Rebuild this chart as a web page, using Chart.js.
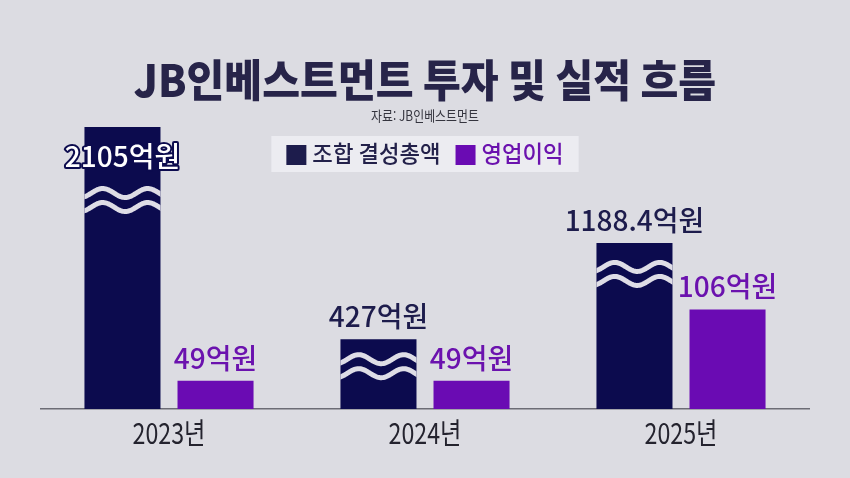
<!DOCTYPE html>
<html lang="ko">
<head>
<meta charset="utf-8">
<title>JB인베스트먼트 투자 및 실적 흐름</title>
<script src="https://cdn.jsdelivr.net/npm/chart.js@4.4.1/dist/chart.umd.min.js"></script>
<style>
    html, body { margin: 0; padding: 0; background: #dcdce2; overflow: hidden; }
    #wrap { width: 850px; height: 478px; position: relative; }
</style>
</head>
<body>
<div id="wrap"><canvas id="chart"></canvas></div>
<script>
// Chart data (억원)
const years = ['2023년', '2024년', '2025년'];
const fundTotal = [2105, 427, 1188.4];      // 조합 결성총액
const operatingProfit = [49, 49, 106];      // 영업이익
const seriesNames = ['조합 결성총액', '영업이익'];
const unit = '억원';

const NAVY = '#0c0b4e';
const NAVY_TEXT = '#1d1c4c';
const PURPLE = '#6a0bb3';
const PURPLE_TEXT = '#6b12ae';
const BG = '#dcdce2';
const FONT = '"Noto Sans CJK KR", "Noto Sans", sans-serif';

/**
 * Draw a text horizontally squeezed by sx (the reference uses a condensed face)
 */
function drawText(ctx, text, x, y, font, color, sx, align, stroke) {
    ctx.save();
    ctx.font = font;
    ctx.textAlign = align || 'center';
    ctx.textBaseline = 'middle';
    ctx.translate(x, y);
    ctx.scale(sx, 1);
    if (stroke) {
        ctx.lineJoin = 'round';
        ctx.lineWidth = stroke.width;
        ctx.strokeStyle = stroke.color;
        ctx.strokeText(text, 0, 0);
    }
    ctx.fillStyle = color;
    ctx.fillText(text, 0, 0);
    ctx.restore();
}

function textWidth(ctx, text, font, sx) {
    ctx.save();
    ctx.font = font;
    const w = ctx.measureText(text).width * sx;
    ctx.restore();
    return w;
}

// Background fill
const backdrop = {
    id: 'backdrop',
    beforeDraw(chart) {
        const ctx = chart.ctx;
        ctx.save();
        ctx.fillStyle = BG;
        ctx.fillRect(0, 0, chart.width, chart.height);
        ctx.restore();
    }
};

// Wavy break marks on the dark bars
const waveBreaks = {
    id: 'waveBreaks',
    afterDatasetsDraw(chart, args, opts) {
        const ctx = chart.ctx;
        const meta = chart.getDatasetMeta(0);
        meta.data.forEach((bar, i) => {
            const p = bar.getProps(['x', 'y', 'base', 'width'], true);
            const left = p.x - p.width / 2;
            const right = p.x + p.width / 2;
            const yc = p.y + opts.offsets[i];
            ctx.save();
            ctx.beginPath();
            ctx.rect(left, p.y, p.width, p.base - p.y);
            ctx.clip();
            ctx.strokeStyle = opts.color;
            ctx.lineWidth = opts.lineWidth;
            [0, opts.gap].forEach(d => {
                ctx.beginPath();
                for (let x = left - 3; x <= right + 3; x++) {
                    const y = yc + d - opts.amplitude * Math.sin(2 * Math.PI * (x - left - opts.phase) / opts.period);
                    if (x === left - 3) ctx.moveTo(x, y); else ctx.lineTo(x, y);
                }
                ctx.stroke();
            });
            ctx.restore();
        });
    }
};

// Value labels above the bars
const valueLabels = {
    id: 'valueLabels',
    afterDatasetsDraw(chart) {
        const ctx = chart.ctx;
        const font = '500 28px ' + FONT;
        chart.data.datasets.forEach((ds, di) => {
            const meta = chart.getDatasetMeta(di);
            meta.data.forEach((bar, i) => {
                const text = ds.data[i] + unit;
                const color = di === 0 ? NAVY_TEXT : PURPLE_TEXT;
                if (bar.y < chart.chartArea.top + 30) {
                    // tallest bar: label sits on the bar, white with outline
                    drawText(ctx, text, bar.x, bar.y + 29, font, '#ffffff', 1, 'center', { width: 4, color: NAVY });
                } else {
                    drawText(ctx, text, bar.x, bar.y - 23, font, color, 1, 'center');
                }
            });
        });
    }
};

// Title, source, legend box and category labels
const decorations = {
    id: 'decorations',
    afterDraw(chart) {
        const ctx = chart.ctx;
        const cx = chart.width / 2;

        drawText(ctx, 'JB인베스트먼트 투자 및 실적 흐름', cx, 80, '900 44px ' + FONT, '#272449', 0.935, 'center');
        drawText(ctx, '자료: JB인베스트먼트', cx, 116, '400 14px ' + FONT, '#34343e', 0.85, 'center');

        // legend
        const lFont = '500 23px ' + FONT;
        const sq = 20, gapIn = 6, gapItem = 15, padX = 15;
        const colors = [NAVY_TEXT, PURPLE];
        const textColors = ['#23214a', PURPLE_TEXT];
        const widths = seriesNames.map(n => textWidth(ctx, n, lFont, 0.97));
        const total = widths.reduce((a, w) => a + sq + gapIn + w, 0) + gapItem;
        const boxL = cx - total / 2 - padX;
        ctx.save();
        ctx.fillStyle = '#ececf1';
        ctx.fillRect(boxL, 136, total + padX * 2, 36);
        ctx.restore();
        let x = boxL + padX;
        seriesNames.forEach((n, i) => {
            ctx.fillStyle = colors[i];
            ctx.fillRect(x, 155 - sq / 2, sq, sq);
            x += sq + gapIn;
            drawText(ctx, n, x, 153, lFont, textColors[i], 0.97, 'left');
            x += widths[i] + gapItem;
        });

        // category labels
        const xs = chart.scales.x;
        years.forEach((y, i) => {
            drawText(ctx, y, xs.getPixelForValue(i), 433, '400 29px ' + FONT, '#24232e', 0.8, 'center');
        });
    }
};

function setupChart() {
    const ctx = document.getElementById('chart').getContext('2d');
    return new Chart(ctx, {
        type: 'bar',
        data: {
            labels: years,
            datasets: [{
                label: seriesNames[0],
                data: fundTotal,
                backgroundColor: NAVY,
                yAxisID: 'y',
                base: -125
            }, {
                label: seriesNames[1],
                data: operatingProfit,
                backgroundColor: PURPLE,
                yAxisID: 'y2'
            }]
        },
        options: {
            responsive: true,
            maintainAspectRatio: false,
            animation: false,
            events: [],
            layout: { padding: { top: 125, bottom: 61, left: 41, right: 41 } },
            datasets: { bar: { categoryPercentage: 0.727, barPercentage: 0.817 } },
            scales: {
                x: {
                    grid: { display: false },
                    ticks: { display: false },
                    border: { display: true, color: '#6c6c75', width: 1.5 }
                },
                // broken axis for the fund totals
                y: { display: false, min: -125, max: 2121 },
                // truncated axis for operating profit
                y2: { display: false, min: 26.5, max: 253.6 }
            },
            plugins: {
                legend: { display: false },
                title: { display: false },
                tooltip: { enabled: false },
                waveBreaks: {
                    offsets: [66, 20, 24],
                    gap: 14,
                    amplitude: 4.5,
                    period: 45,
                    phase: 7,
                    lineWidth: 5,
                    color: '#dedde6'
                }
            }
        },
        plugins: [backdrop, waveBreaks, valueLabels, decorations]
    });
}

document.addEventListener('DOMContentLoaded', function() {
    setupChart();
});
</script>
</body>
</html>
